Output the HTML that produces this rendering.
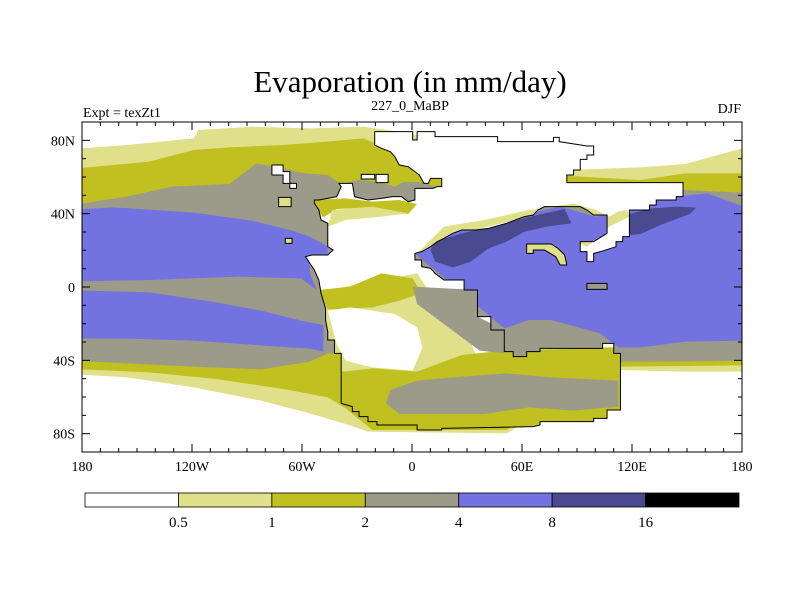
<!DOCTYPE html>
<html><head><meta charset="utf-8">
<style>
html,body{margin:0;padding:0;background:#fff;}
svg{display:block;font-family:"Liberation Serif",serif;}
</style></head>
<body>
<svg id="fig" width="800" height="600" viewBox="0 0 800 600" xmlns="http://www.w3.org/2000/svg">
<defs>
<clipPath id="plotclip"><rect x="82" y="122" width="660" height="330"/></clipPath>
<clipPath id="landclip"><path id="landpathc" d=""/></clipPath>
</defs>
<text x="410" y="92" font-size="31" text-anchor="middle">Evaporation (in mm/day)</text>
<text x="83" y="117" font-size="14">Expt = texZt1</text>
<text x="410" y="110" font-size="14" text-anchor="middle">227_0_MaBP</text>
<text x="741" y="113" font-size="14" text-anchor="end">DJF</text>

<g clip-path="url(#plotclip)">
<rect x="82" y="122" width="660" height="330" fill="#fff"/>
<g transform="translate(82,60) scale(0.44686,0.33333) translate(-50,0)" id="mapg">
<polygon fill="#e0e08a" points="0,270 150,255 300,235 310,210 430,200 560,205 680,200 760,215 1100,300 1140,330 1300,322 1400,312 1527,265 1600,265 1600,935 1400,935 1255,930 1000,1120 690,1115 640,1092 560,1060 450,1022 300,982 150,952 0,940"/>
<polygon fill="#c0c020" points="0,330 200,305 300,270 380,262 500,255 600,245 680,235 740,270 1100,330 1140,348 1300,360 1400,340 1527,340 1600,340 1600,915 1400,918 1255,920 1000,1110 700,1110 640,1045 600,1012 500,987 350,957 200,937 0,925"/>
<polygon fill="#9c9a88" points="0,440 150,410 250,380 380,372 440,310 550,340 600,345 630,372 670,360 720,368 750,380 770,366 810,366 850,385 1000,400 1300,395 1395,390 1527,398 1600,398 1600,900 1400,905 1255,905 1000,900 600,880 560,905 450,928 300,920 150,910 0,900"/>
<polygon fill="#7272e0" points="0,452 120,442 300,458 430,482 520,512 560,530 600,560 600,592 560,600 560,640 575,690 540,655 400,650 200,660 0,665"/>
<polygon fill="#7272e0" points="0,690 200,697 350,727 450,752 540,782 590,795 590,875 560,866 450,856 300,842 150,836 0,835"/>
<polygon fill="#7272e0" points="795,580 820,540 870,505 950,490 1050,460 1120,440 1200,470 1225,465 1260,450 1300,430 1380,410 1450,400 1527,438 1600,438 1600,840 1400,845 1300,862 1250,862 1210,820 1100,780 1050,780 995,805"/>
<polygon fill="#4a4a90" points="840,545 900,520 990,492 1060,468 1130,447 1145,490 1090,500 1040,515 1000,545 960,565 920,605 880,622 840,605 830,570"/>
<polygon fill="#4a4a90" points="1275,462 1320,446 1380,440 1425,443 1410,462 1350,492 1300,522 1268,527"/>

<path id="landpath" fill="#fff" d="M705,215 L790,215 L790,240 L800,240 L800,215 L840,215 L840,230 L980,230 L980,245 L1105,245 L1105,232 L1118,232 L1118,245 L1180,258 L1195,258 L1195,285 L1180,285 L1180,298 L1165,298 L1165,330 L1150,330 L1150,345 L1135,345 L1135,368 L1395,368 L1395,410 L1380,410 L1380,420 L1335,420 L1335,435 L1320,435 L1320,450 L1275,450 L1275,530 L1260,530 L1260,545 L1245,545 L1245,560 L1210,575 L1195,580 L1195,605 L1180,605 L1180,575 L1165,575 L1165,545 L1195,545 L1225,520 L1225,465 L1195,465 L1180,450 L1165,440 L1085,440 L1070,450 L1060,465 L1040,470 L1020,480 L1000,490 L960,505 L930,510 L900,510 L880,520 L860,535 L845,545 L830,560 L810,575 L795,580 L795,600 L810,600 L810,620 L830,625 L840,640 L860,660 L905,660 L905,690 L935,690 L935,770 L965,770 L965,810 L995,810 L995,875 L1015,875 L1015,890 L1045,890 L1045,875 L1075,875 L1075,865 L1215,865 L1215,850 L1240,850 L1240,880 L1255,880 L1255,1050 L1225,1050 L1225,1075 L1195,1075 L1195,1085 L1075,1085 L1075,1095 L1060,1100 L855,1105 L855,1110 L800,1110 L800,1095 L710,1095 L710,1085 L690,1085 L690,1070 L670,1070 L670,1055 L655,1055 L655,1040 L630,1030 L630,880 L615,880 L615,840 L600,840 L600,815 L595,780 L595,745 L585,700 L580,660 L570,630 L560,610 L550,590 L565,585 L600,585 L612,570 L600,560 L600,490 L585,480 L580,450 L570,430 L570,420 L580,420 L620,410 L630,380 L625,370 L655,370 L660,410 L690,420 L720,415 L745,410 L765,410 L780,425 L795,420 L795,385 L835,385 L845,380 L855,380 L855,355 L830,355 L825,370 L815,370 L805,345 L780,320 L760,315 L750,290 L740,275 L720,265 L705,255 Z"/>
<g clip-path="url(#landclip)">
<polygon fill="#e0e08a" points="560,700 800,640 830,700 900,780 930,880 1000,870 1255,860 1255,1110 630,1110 600,900"/>
<polygon fill="#c0c020" points="600,940 700,925 800,935 900,885 1000,872 1255,862 1255,1110 630,1110"/>
<polygon fill="#9c9a88" points="740,990 800,962 900,950 1000,940 1100,952 1250,962 1250,1040 1150,1052 1050,1042 950,1062 850,1062 760,1062 730,1030"/>
<polygon fill="#c0c020" points="580,690 650,680 720,640 790,655 810,700 760,722 700,742 600,748"/>
<polygon fill="#9c9a88" points="790,680 935,690 935,770 995,810 995,880 940,872 900,832 840,772 800,732"/>
<polygon fill="#fff" points="600,752 650,742 750,762 800,802 812,862 790,932 700,922 640,902 620,852"/>
<polygon fill="#c0c020" points="560,420 640,415 700,425 760,420 800,432 780,462 700,442 620,447 590,472"/>
<polygon fill="#e0e08a" points="610,450 700,440 780,460 720,470 640,480 600,500"/>
<polygon fill="#e0e08a" points="860,500 950,480 1050,450 1150,430 1200,450 1230,470 1250,455 1270,450 1275,470 1230,500 1200,540 1180,560 1160,550 1200,470 1120,445 1050,470 960,500 880,525 830,560 800,580"/>
</g>
<path id="landoutline" fill="none" stroke="#000" stroke-width="1" vector-effect="non-scaling-stroke" d=""/>
<g stroke="#000" stroke-width="1" vector-effect="non-scaling-stroke">
<polygon fill="#fff" vector-effect="non-scaling-stroke" points="475,315 500,315 500,335 515,335 515,370 530,370 530,385 515,385 515,370 500,370 500,345 475,345"/>
<polygon fill="#e0e08a" vector-effect="non-scaling-stroke" points="490,412 518,412 518,440 490,440"/>
<polygon fill="#fff" vector-effect="non-scaling-stroke" points="675,343 705,343 705,357 675,357"/>
<polygon fill="#fff" vector-effect="non-scaling-stroke" points="708,343 735,343 735,368 708,368"/>
<polygon fill="#e0e08a" vector-effect="non-scaling-stroke" points="1045,552 1100,552 1115,565 1130,585 1135,615 1120,615 1110,590 1085,570 1060,570 1060,580 1045,580"/>
<polygon fill="#9c9a88" vector-effect="non-scaling-stroke" points="1180,670 1225,670 1225,688 1180,688"/>
<polygon fill="#e0e08a" vector-effect="non-scaling-stroke" points="505,535 520,535 520,550 505,550"/>
</g>
</g>
</g>
<rect x="82" y="122" width="660" height="330" fill="none" stroke="#000" stroke-width="1"/>
<g id="ticks"></g>
<g id="labels" font-size="14"></g>
<g id="colorbar"></g>
</svg>
<script>
var levels = ["0.5","1","2","4","8","16"];
var levelColors = ["#ffffff","#e0e08a","#c0c020","#9c9a88","#7272e0","#4a4a90","#000000"];
var lonTicks = [-180,-120,-60,0,60,120,180];
var lonLabels = ["180","120W","60W","0","60E","120E","180"];
var latTicks = [80,40,0,-40,-80];
var latLabels = ["80N","40N","0","40S","80S"];

var NS="http://www.w3.org/2000/svg";
var d=document.getElementById('landpath').getAttribute('d');
document.getElementById('landpathc').setAttribute('d',d);
document.getElementById('landpathc').parentNode.setAttribute('clipPathUnits','userSpaceOnUse');
document.getElementById('landoutline').setAttribute('d',d);

function xs(lon){return 82+(lon+180)*660/360;}
function ys(lat){return 287-lat*330/180;}
function mk(tag,attrs,parent){var e=document.createElementNS(NS,tag);for(var k in attrs)e.setAttribute(k,attrs[k]);parent.appendChild(e);return e;}
var tg=document.getElementById('ticks');
for(var lon=-170;lon<180;lon+=10){
  var major=(lon%60===0);var L=major?8:4;var x=xs(lon);
  var t1=mk('line',{x1:x,x2:x,y1:452,y2:452-L,stroke:'#000'},tg);
  
  
  var t2=mk('line',{x1:x,x2:x,y1:122,y2:122+L,stroke:'#000'},tg);
  
  
}
for(var lat=-80;lat<=80;lat+=10){
  var major=(lat%40===0);var L=major?8:4;var y=ys(lat);
  var t3=mk('line',{x1:82,x2:82+L,y1:y,y2:y,stroke:'#000'},tg);
  
  
  var t4=mk('line',{x1:742,x2:742-L,y1:y,y2:y,stroke:'#000'},tg);
  
  
}
var lg=document.getElementById('labels');
lonTicks.forEach(function(v,i){
  var t=mk('text',{x:xs(v),y:471,'text-anchor':'middle'},lg);t.textContent=lonLabels[i];
  
  
});
latTicks.forEach(function(v,i){
  var t=mk('text',{x:75,y:ys(v)+5,'text-anchor':'end'},lg);t.textContent=latLabels[i];
  
  
});
var cb=document.getElementById('colorbar');
var cx0=85,cx1=739,cw=(cx1-cx0)/levelColors.length;
levelColors.forEach(function(c,i){
  var r=mk('rect',{x:cx0+i*cw,y:493,width:cw,height:14,fill:c,stroke:'#000','stroke-width':0.8},cb);
  
  
});
levels.forEach(function(l,i){
  var t=mk('text',{x:cx0+(i+1)*cw,y:527,'text-anchor':'middle','font-size':15},cb);t.textContent=l;
  
  
});
</script>
</body></html>
